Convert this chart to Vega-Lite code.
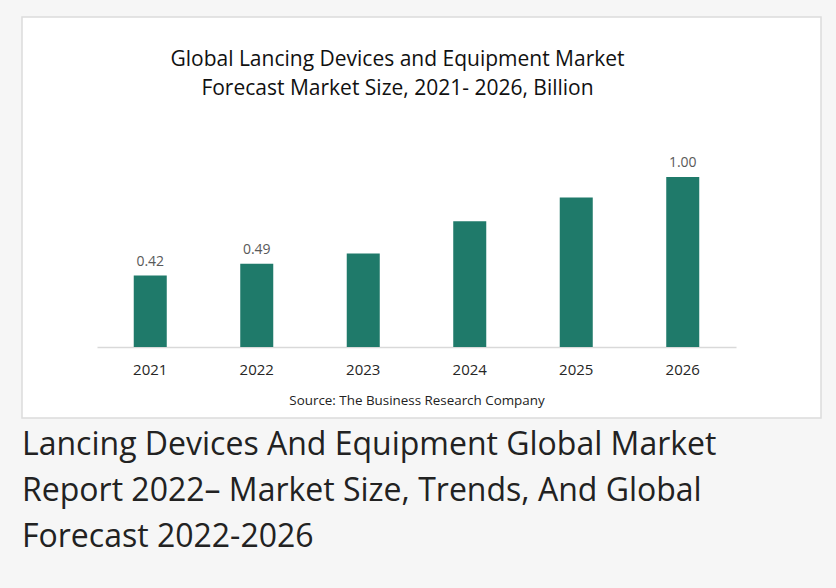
{
  "$schema": "https://vega.github.io/schema/vega-lite/v6.json",
  "autosize": {"type": "none"},
  "width": 799,
  "height": 401,
  "padding": {"left": 22, "top": 17, "right": 15, "bottom": 170},
  "background": "#f6f6f6",
  "config": {
    "font": "Open Sans",
    "view": {"fill": "white", "stroke": "#dcdcdc", "strokeWidth": 1.5}
  },
  "title": {
    "text": ["Lancing Devices And Equipment Global Market", "Report 2022– Market Size, Trends, And Global", "Forecast 2022-2026"],
    "orient": "bottom",
    "anchor": "start",
    "frame": "group",
    "offset": 12,
    "fontSize": 32,
    "fontWeight": "normal",
    "lineHeight": 46,
    "color": "#222222",
    "font": "Open Sans"
  },
  "data": {
    "values": [
      {"year": "2021", "value": 0.42, "label": "0.42"},
      {"year": "2022", "value": 0.49, "label": "0.49"},
      {"year": "2023", "value": 0.55, "label": ""},
      {"year": "2024", "value": 0.74, "label": ""},
      {"year": "2025", "value": 0.88, "label": ""},
      {"year": "2026", "value": 1.00, "label": "1.00"}
    ]
  },
  "encoding": {
    "x": {
      "field": "year",
      "type": "nominal",
      "sort": null,
      "scale": {"range": [75, 714], "paddingInner": 0.69, "paddingOuter": 0.345},
      "axis": {
        "title": "Source: The Business Research Company",
        "titleFontSize": 13.4,
        "titleFontWeight": "normal",
        "titleColor": "#222222",
        "titlePadding": 16,
        "offset": -71,
        "labelAngle": 0,
        "labelFontSize": 15,
        "labelColor": "#262626",
        "labelPadding": 15,
        "ticks": false,
        "domainColor": "#d9d9d9",
        "domainWidth": 1.5,
        "grid": false
      }
    },
    "y": {
      "field": "value",
      "type": "quantitative",
      "scale": {"domain": [0, 1], "range": [330, 160], "nice": false, "zero": true},
      "axis": {
        "title": ["Global Lancing Devices and Equipment Market", "Forecast Market Size, 2021- 2026, Billion"],
        "titleAngle": 0,
        "titleAlign": "center",
        "titleBaseline": "middle",
        "titleX": 375,
        "titleY": 42,
        "titleFontSize": 21,
        "titleFontWeight": "normal",
        "titleColor": "#111111",
        "titleLineHeight": 29,
        "labels": false,
        "ticks": false,
        "domain": false,
        "grid": false
      }
    }
  },
  "layer": [
    {"mark": {"type": "bar", "color": "#1f7a6a"}},
    {
      "mark": {"type": "text", "baseline": "bottom", "dy": -7, "fontSize": 14, "color": "#595959"},
      "encoding": {"text": {"field": "label"}}
    }
  ]
}
